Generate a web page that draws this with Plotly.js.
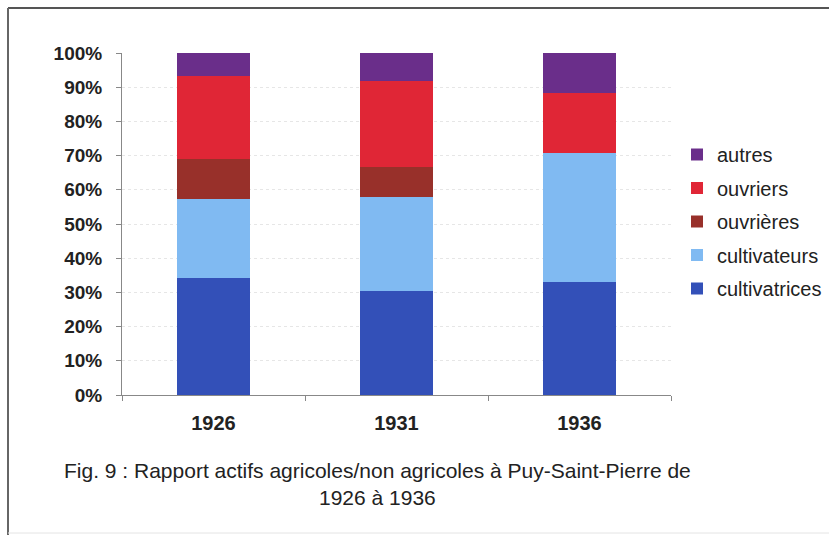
<!DOCTYPE html>
<html>
<head>
<meta charset="utf-8">
<script src="https://cdn.plot.ly/plotly-3.0.1.min.js"></script>
<style>html,body{margin:0;padding:0;background:#fff;}#chart{width:829px;height:537px;}</style>
</head>
<body>
<div id="chart"></div>
<script>
const years = ['1926', '1931', '1936'];
const cultivatrices = [34.2, 30.4, 33.0];
const cultivateurs = [23.1, 27.5, 37.8];
const ouvrieres = [11.7, 8.8, 0];
const ouvriers = [24.3, 25.2, 17.5];
const autres = [6.7, 8.1, 11.7];
const seriesNames = ['cultivatrices', 'cultivateurs', 'ouvrières', 'ouvriers', 'autres'];
const seriesValues = [cultivatrices, cultivateurs, ouvrieres, ouvriers, autres];
const seriesColors = ['#3350b8', '#80baf2', '#98302a', '#e02636', '#6a2e8a'];
const yTicks = [0, 10, 20, 30, 40, 50, 60, 70, 80, 90, 100];

const traces = seriesNames.map((n, i) => ({
  type: 'bar', name: n, x: years, y: seriesValues[i],
  marker: {color: seriesColors[i], line: {width: 0}},
  width: 0.4, legendgroup: n, legendrank: seriesNames.length - i
}));

const L = 122, R = 671, T = 53, B = 395, W = 829, H = 537;
const px = x => (x - L) / (R - L);
const py = y => (B - y) / (B - T);

const layout = {
  width: W, height: H,
  margin: {l: L, r: W - R, t: T, b: H - B, pad: 0, autoexpand: false},
  paper_bgcolor: '#fff', plot_bgcolor: '#fff',
  barmode: 'stack', showlegend: true,
  font: {family: 'Liberation Sans, Arial, sans-serif', color: '#222'},
  xaxis: {
    type: 'category', showgrid: false, showline: true, linecolor: '#888', linewidth: 1,
    ticks: 'outside', tickson: 'boundaries', ticklen: 5, tickcolor: '#888',
    tickfont: {size: 20, color: '#222', weight: 'bold'}, ticklabelstandoff: 10
  },
  yaxis: {
    range: [0, 100], tickvals: yTicks, ticktext: yTicks.map(v => v + '%'),
    showline: true, linecolor: '#888', linewidth: 1,
    ticks: 'outside', ticklen: 5, tickcolor: '#888',
    showgrid: true, gridcolor: '#e6e6e6', griddash: 'dot', zeroline: false,
    tickfont: {size: 19, color: '#222', weight: 'bold'}, ticklabelstandoff: 10
  },
  legend: {
    x: px(677), xanchor: 'left', y: py(135), yanchor: 'top',
    traceorder: 'grouped', tracegroupgap: 4.5,
    font: {size: 20, color: '#222'}, bgcolor: 'rgba(0,0,0,0)', borderwidth: 0
  },
  annotations: [
    {xref: 'paper', yref: 'paper', x: px(377), y: py(470), text: 'Fig. 9 : Rapport actifs agricoles/non agricoles à Puy-Saint-Pierre de',
      showarrow: false, font: {size: 21, color: '#222'}, xanchor: 'center', yanchor: 'middle'},
    {xref: 'paper', yref: 'paper', x: px(377), y: py(497), text: '1926 à 1936',
      showarrow: false, font: {size: 21, color: '#222'}, xanchor: 'center', yanchor: 'middle'}
  ],
  shapes: [
    {type: 'line', xref: 'paper', yref: 'paper', x0: px(8), x1: px(835), y0: py(8), y1: py(8), line: {color: '#555', width: 2}},
    {type: 'line', xref: 'paper', yref: 'paper', x0: px(8), x1: px(8), y0: py(8), y1: py(535), line: {color: '#666', width: 2}},
    {type: 'line', xref: 'paper', yref: 'paper', x0: px(8), x1: px(835), y0: py(533), y1: py(533), line: {color: '#e4e4e4', width: 1}}
  ]
};

Plotly.newPlot('chart', traces, layout, {displayModeBar: false, staticPlot: true});
</script>
</body>
</html>
